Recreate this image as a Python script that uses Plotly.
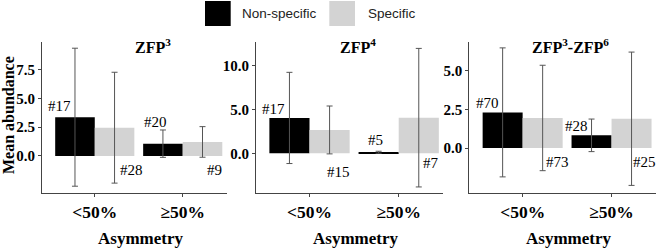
import plotly.graph_objects as go

W, H = 656, 248

categories = ["<50%", "≥50%"]
panels = ["ZFP<sup>3</sup>", "ZFP<sup>4</sup>", "ZFP<sup>3</sup>-ZFP<sup>6</sup>"]

nonspec_mean = [[3.37, 1.07], [4.03, 0.12], [2.30, 0.82]]
nonspec_sd = [[6.0, 1.19], [5.2, 0.11], [4.16, 1.05]]
spec_mean = [[2.46, 1.22], [2.66, 4.06], [1.94, 1.89]]
spec_sd = [[4.82, 1.33], [2.73, 7.9], [3.4, 4.3]]

nonspec_n = [["#17", "#20"], ["#17", "#5"], ["#70", "#28"]]
spec_n = [["#28", "#9"], ["#15", "#7"], ["#73", "#25"]]

y_ranges = [[-3.22, 9.91], [-4.53, 12.69], [-2.90, 6.84]]
y_ticks = [[0, 2.5, 5, 7.5], [0, 5, 10], [0, 2.5, 5]]
y_ticktext = [["0.0", "2.5", "5.0", "7.5"], ["0.0", "5.0", "10.0"], ["0.0", "2.5", "5.0"]]

# layout (pixel) positions
x_px = [(42, 226.7), (256, 443.3), (469.3, 656)]
y_px = (42, 193)
title_px = [152.5, 357.5, 570]
# label positions in data coords (category index offsets, y)
ns_lab_pos = [[(-0.403, 4.35), (0.69, 2.96)], [(-0.40, 5.08), (0.74, 1.52)], [(-0.395, 2.92), (0.61, 1.42)]]
sp_lab_pos = [[(0.42, -1.22), (1.36, -1.22)], [(0.33, -2.09), (1.36, -1.1)], [(0.39, -0.92), (1.37, -0.89)]]

serif = "Liberation Serif, Times New Roman, serif"
sans = "Liberation Sans, Arial, sans-serif"
err_col = "#555555"
axis_col = "#444444"

fig = go.Figure()
layout = dict(
    width=W, height=H, margin=dict(l=0, r=0, t=0, b=0),
    paper_bgcolor="white", plot_bgcolor="white",
    barmode="group", bargap=0.1, bargroupgap=0, showlegend=False,
)
annotations = []
shapes = []

for i in range(3):
    xa = "x" if i == 0 else f"x{i+1}"
    ya = "y" if i == 0 else f"y{i+1}"
    fig.add_trace(go.Bar(
        x=categories, y=nonspec_mean[i], name="Non-specific",
        marker=dict(color="black", line=dict(width=0)),
        error_y=dict(type="data", array=nonspec_sd[i], color=err_col, thickness=1, width=3),
        xaxis=xa, yaxis=ya, offsetgroup="a",
    ))
    fig.add_trace(go.Bar(
        x=categories, y=spec_mean[i], name="Specific",
        marker=dict(color="#d3d3d3", line=dict(width=0)),
        error_y=dict(type="data", array=spec_sd[i], color=err_col, thickness=1, width=3),
        xaxis=xa, yaxis=ya, offsetgroup="b",
    ))
    xkey = "xaxis" if i == 0 else f"xaxis{i+1}"
    ykey = "yaxis" if i == 0 else f"yaxis{i+1}"
    layout[xkey] = dict(
        domain=[x_px[i][0] / W, x_px[i][1] / W], anchor=ya,
        type="category", range=[-0.6, 1.5],
        showline=True, linecolor=axis_col, linewidth=1, mirror=False,
        ticks="outside", ticklen=3, tickcolor=axis_col, showgrid=False, zeroline=False,
        tickfont=dict(family=serif, size=17.5, color="black", weight="bold"),
    )
    layout[ykey] = dict(
        domain=[1 - y_px[1] / H, 1 - y_px[0] / H], anchor=xa,
        range=y_ranges[i], tickvals=y_ticks[i], ticktext=y_ticktext[i],
        showline=True, linecolor=axis_col, linewidth=1,
        ticks="outside", ticklen=3, tickcolor=axis_col, showgrid=False, zeroline=False,
        tickfont=dict(family=serif, size=15, color="black", weight="bold"),
    )
    # panel title
    annotations.append(dict(
        text=panels[i], xref="paper", yref="paper",
        x=title_px[i] / W, y=1 - 46 / H, showarrow=False,
        xanchor="center", yanchor="middle",
        font=dict(family=serif, size=16, color="black", weight="bold"),
    ))
    # x axis title
    annotations.append(dict(
        text="Asymmetry", xref="paper", yref="paper",
        x=(x_px[i][0] + x_px[i][1]) / 2 / W + (6 / W), y=1 - 238 / H, showarrow=False,
        xanchor="center", yanchor="middle",
        font=dict(family=serif, size=17, color="black", weight="bold"),
    ))
    # n labels
    for j in range(2):
        for labs, pos in ((nonspec_n, ns_lab_pos), (spec_n, sp_lab_pos)):
            px_, py_ = pos[i][j]
            annotations.append(dict(
                text=labs[i][j], xref=xa, yref=ya, x=px_, y=py_,
                showarrow=False, xanchor="center", yanchor="middle",
                font=dict(family=serif, size=15, color="black"),
            ))

# y axis title
annotations.append(dict(
    text="Mean abundance", xref="paper", yref="paper",
    x=9 / W, y=1 - 115 / H, showarrow=False, textangle=-90,
    xanchor="center", yanchor="middle",
    font=dict(family=serif, size=16, color="black", weight="bold"),
))

# legend
legend_items = [("Non-specific", "black", 205, 240), ("Specific", "#d3d3d3", 329.3, 365.7)]
for name, col, x0, tx in legend_items:
    shapes.append(dict(
        type="rect", xref="paper", yref="paper",
        x0=x0 / W, x1=(x0 + 25.7) / W, y0=1 - 26 / H, y1=1 - 1 / H,
        fillcolor=col, line=dict(width=0),
    ))
    annotations.append(dict(
        text=name, xref="paper", yref="paper", x=tx / W, y=1 - 14 / H,
        showarrow=False, xanchor="left", yanchor="middle",
        font=dict(family=sans, size=13.5, color="#222222"),
    ))

layout["annotations"] = annotations
layout["shapes"] = shapes
fig.update_layout(**layout)
fig.write_html(
    "out.html",
    config={"displayModeBar": False},
    post_script="document.body.style.margin='0';document.body.style.overflow='hidden';",
)
